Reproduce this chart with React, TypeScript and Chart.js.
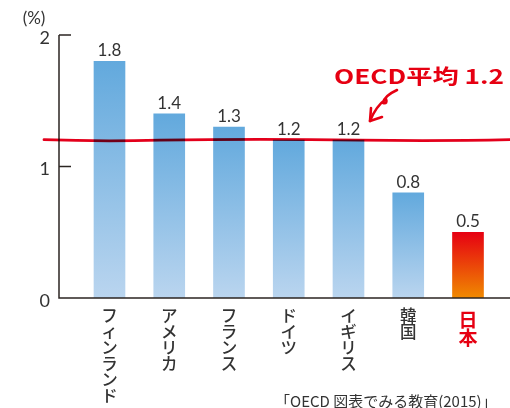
import React, { useEffect, useRef } from "react";
import { Chart, registerables } from "chart.js";

Chart.register(...registerables);

const categories = ["フィンランド", "アメリカ", "フランス", "ドイツ", "イギリス", "韓国", "日本"];
const values = [1.8, 1.4, 1.3, 1.2, 1.2, 0.8, 0.5];
const oecdAverage = 1.2;
const yTicks = [0, 1, 2];
const highlightIndex = 6;
const unitLabel = "(%)";
const oecdLabel = "OECD平均 1.2";
const sourceLabel = "「OECD 図表でみる教育(2015)」";

const NUM_FONT = "'Lato', 'Noto Sans', sans-serif";
const JP_FONT = "'Noto Sans CJK JP', 'Noto Sans', sans-serif";
const TEXT = "#333333";
const RED = "#e60012";

const overlay = {
  id: "overlay",
  afterDatasetsDraw(chart: any) {
    const { ctx, chartArea, scales } = chart;
    const xs = scales.x;
    const ys = scales.y;
    const left = chartArea.left;
    const bottom = chartArea.bottom;
    ctx.save();

    // axes
    ctx.strokeStyle = "#2b2522";
    ctx.lineWidth = 1.5;
    ctx.beginPath();
    ctx.moveTo(left, ys.getPixelForValue(2));
    ctx.lineTo(left, bottom);
    ctx.lineTo(chart.width, bottom);
    ctx.stroke();
    yTicks.forEach((t) => {
      if (t === 0) return;
      const py = ys.getPixelForValue(t);
      ctx.beginPath();
      ctx.moveTo(left, py);
      ctx.lineTo(left + 12, py);
      ctx.stroke();
    });

    // y tick labels
    ctx.fillStyle = TEXT;
    ctx.font = `normal 18px ${NUM_FONT}`;
    ctx.textAlign = "right";
    ctx.textBaseline = "middle";
    yTicks.forEach((t) => {
      ctx.fillText(String(t), 50, ys.getPixelForValue(t) + 3);
    });
    ctx.textAlign = "center";
    ctx.font = `normal 17px ${NUM_FONT}`;
    ctx.fillText(unitLabel, 34, 19);

    // value labels
    values.forEach((v, i) => {
      const px = xs.getPixelForValue(i);
      const py = ys.getPixelForValue(v);
      ctx.font = `normal 17px ${NUM_FONT}`;
      ctx.textAlign = "center";
      ctx.textBaseline = "alphabetic";
      ctx.fillStyle = TEXT;
      ctx.fillText(v.toFixed(1), px, py - 5);
    });

    // category labels (vertical)
    categories.forEach((c, i) => {
      const px = xs.getPixelForValue(i);
      const isHi = i === highlightIndex;
      const size = isHi ? 19 : 16.5;
      const step = isHi ? 18.5 : 16;
      ctx.font = `${isHi ? "bold" : "500"} ${size}px ${JP_FONT}`;
      ctx.fillStyle = isHi ? RED : TEXT;
      ctx.textAlign = "center";
      ctx.textBaseline = "top";
      Array.from(c).forEach((ch, k) => {
        ctx.fillText(ch, px, (isHi ? 310 : 307) + k * step);
      });
    });

    // source
    ctx.font = `normal 15px ${JP_FONT}`;
    ctx.fillStyle = TEXT;
    ctx.textAlign = "left";
    ctx.textBaseline = "top";
    ctx.fillText(sourceLabel, 275, 394);

    // OECD average line
    const ay = ys.getPixelForValue(oecdAverage);
    ctx.globalCompositeOperation = "multiply";
    ctx.strokeStyle = "#e3001b";
    ctx.lineWidth = 2.8;
    ctx.lineCap = "round";
    ctx.beginPath();
    ctx.moveTo(44, ay - 0.5);
    ctx.quadraticCurveTo(100, ay + 1.5, 160, ay);
    ctx.quadraticCurveTo(260, ay - 1.5, 360, ay);
    ctx.quadraticCurveTo(440, ay + 1, 510, ay - 0.5);
    ctx.stroke();
    ctx.globalCompositeOperation = "source-over";

    // annotation text
    ctx.fillStyle = RED;
    ctx.font = `bold 20px ${JP_FONT}`;
    ctx.textAlign = "left";
    ctx.textBaseline = "middle";
    const w = ctx.measureText(oecdLabel).width;
    ctx.save();
    ctx.translate(334, 76);
    ctx.scale(170 / w, 1);
    ctx.fillText(oecdLabel, 0, 0);
    ctx.restore();

    // arrow
    ctx.strokeStyle = RED;
    ctx.lineWidth = 2.6;
    ctx.lineJoin = "round";
    ctx.beginPath();
    ctx.moveTo(397, 90);
    ctx.quadraticCurveTo(384, 96, 383, 103);
    ctx.quadraticCurveTo(388, 104, 386, 99);
    ctx.quadraticCurveTo(376, 106, 370, 121);
    ctx.stroke();
    ctx.beginPath();
    ctx.moveTo(371, 108);
    ctx.lineTo(370, 121);
    ctx.lineTo(382, 117);
    ctx.stroke();

    ctx.restore();
  },
};

export default function App() {
  const ref = useRef<HTMLCanvasElement | null>(null);
  useEffect(() => {
    document.body.style.margin = "0";
    const canvas = ref.current;
    if (!canvas) return;
    const bg = (context: any) => {
      const chart = context.chart;
      const { ctx, chartArea, scales } = chart;
      const i = context.dataIndex;
      const isHi = i === highlightIndex;
      if (!chartArea || !scales.y) return isHi ? RED : "#7fb4e3";
      const top = scales.y.getPixelForValue(values[i]);
      const bot = scales.y.getPixelForValue(0);
      const g = ctx.createLinearGradient(0, top, 0, bot);
      if (isHi) {
        g.addColorStop(0, "#e60012");
        g.addColorStop(1, "#f08a00");
      } else {
        g.addColorStop(0, "#62a9dd");
        g.addColorStop(1, "#bad5ef");
      }
      return g;
    };
    const chart = new Chart(canvas, {
      type: "bar",
      data: {
        datasets: [
          {
            data: values.map((v, i) => ({ x: i, y: v })),
            backgroundColor: bg,
            borderWidth: 0,
            barThickness: 31,
          },
        ],
      },
      options: {
        animation: false,
        responsive: true,
        maintainAspectRatio: false,
        layout: { padding: { left: 59, top: 35, right: 0, bottom: 110 } },
        plugins: { legend: { display: false }, tooltip: { enabled: false } },
        scales: {
          x: { type: "linear", min: -0.845, max: 6.703, offset: false, display: false },
          y: { min: 0, max: 2, display: false },
        },
      },
      plugins: [overlay],
    });
    return () => chart.destroy();
  }, []);
  return (
    <div style={{ position: "fixed", left: 0, top: 0, width: 510, height: 408, background: "#fff" }}>
      <canvas ref={ref} />
    </div>
  );
}
